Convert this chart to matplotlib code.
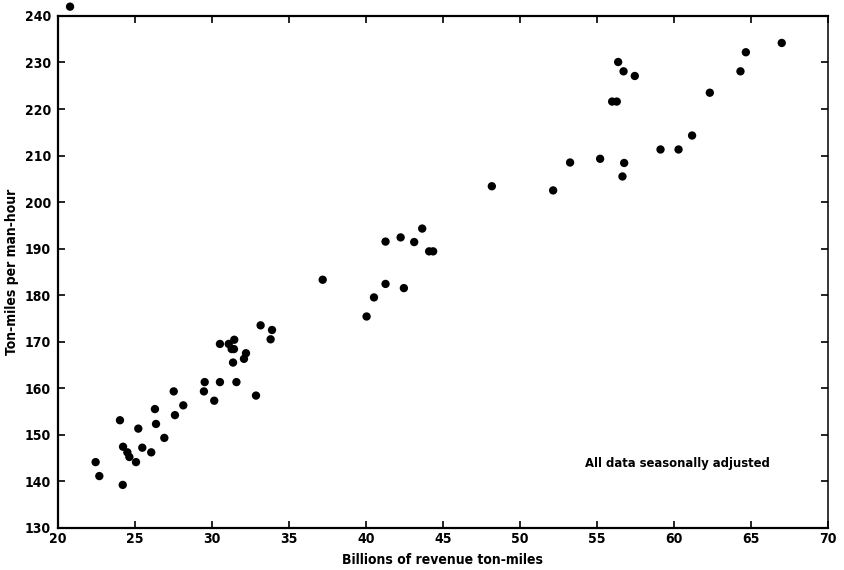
import matplotlib.pyplot as plt
from matplotlib import font_manager

# billions of revenue ton-miles vs ton-miles per man-hour
ton_miles = [
    20.8,
    22.46, 22.7, 24.22, 24.04, 24.24, 24.52, 24.65, 25.08, 25.23, 25.49,
    26.07, 26.31, 26.38, 26.92, 27.53, 27.61, 28.15, 29.49, 29.54, 30.16,
    30.53, 31.6, 32.87, 30.53, 31.1, 31.46, 31.29, 31.44, 32.22, 32.09,
    31.38, 33.17, 33.91, 33.82,
    37.2, 40.05, 40.53, 41.28, 42.47, 41.28, 42.26, 43.14, 43.66, 44.11,
    44.37, 48.18,
    52.16, 53.26, 55.21, 56.66, 56.77, 55.99, 56.29, 56.38, 56.73, 57.46,
    59.13, 60.3, 61.18, 62.33, 64.32, 64.67, 67.0,
]
per_man_hour = [
    242.0,
    144.1, 141.1, 139.2, 153.1, 147.4, 146.2, 145.2, 144.1, 151.3, 147.2,
    146.2, 155.5, 152.3, 149.3, 159.3, 154.2, 156.3, 159.3, 161.3, 157.3,
    161.3, 161.3, 158.4, 169.5, 169.5, 170.4, 168.4, 168.4, 167.5, 166.3,
    165.5, 173.5, 172.5, 170.5,
    183.3, 175.4, 179.5, 182.4, 181.5, 191.5, 192.4, 191.4, 194.3, 189.4,
    189.4, 203.4,
    202.5, 208.5, 209.3, 205.5, 208.4, 221.6, 221.6, 230.1, 228.1, 227.1,
    211.3, 211.3, 214.3, 223.5, 228.1, 232.2, 234.2,
]
x_ticks = list(range(20, 71, 5))
y_ticks = list(range(130, 241, 10))

# look for a narrow face, the scan uses a condensed gothic
fonts = font_manager.fontManager.ttflist
narrow = [f for f in fonts if "Narrow" in f.name or "Condensed" in f.name
          or f.stretch in ("condensed", "semi-condensed")]
if narrow:
    fam = narrow[0].name
    stretch = narrow[0].stretch
else:
    fam, stretch = "Roboto", "normal"
plt.rcParams["font.family"] = [fam, "DejaVu Sans"]
plt.rcParams["font.stretch"] = stretch

fs = 10
wt = "semibold"

fig = plt.figure(figsize=(8.44, 5.70), dpi=100)
ax = fig.add_axes([0.0684, 0.0742, 0.9126, 0.8978])

ax.scatter(ton_miles, per_man_hour, s=36, color="black", edgecolors="none",
           clip_on=False, zorder=3)

ax.set_xlim(20, 70)
ax.set_ylim(130, 240)
ax.set_xticks(x_ticks)
ax.set_yticks(y_ticks)
ax.tick_params(direction="in", length=5, width=1.2, labelsize=fs,
               top=True, right=True, pad=5)
ax.tick_params(axis="x", pad=3)
for lab in ax.get_xticklabels() + ax.get_yticklabels():
    lab.set_fontweight(wt)

for side in ["left", "bottom", "top"]:
    ax.spines[side].set_linewidth(1.6)
ax.spines["right"].set_linewidth(1.1)

ax.set_xlabel("Billions of revenue ton-miles", fontsize=fs, fontweight=wt,
              labelpad=5)
ax.set_ylabel("Ton-miles per man-hour", fontsize=fs, fontweight=wt,
              labelpad=4)

ax.text(54.2, 143.9, "All data seasonally adjusted", fontsize=9.3,
        fontweight=wt, ha="left", va="center")

fig.savefig("out.png", dpi=100)
